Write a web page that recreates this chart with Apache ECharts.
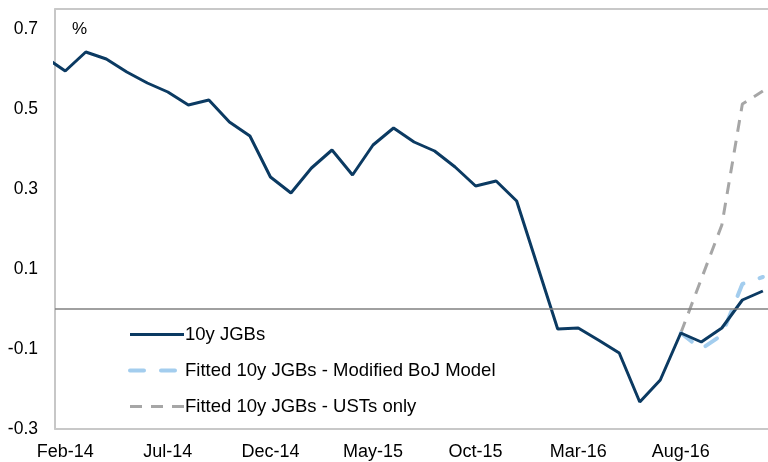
<!DOCTYPE html>
<html>
<head>
<meta charset="utf-8">
<script src="https://cdn.jsdelivr.net/npm/echarts@6/dist/echarts.min.js"></script>
<style>
  html, body { margin: 0; padding: 0; background: #fff; }
  #chart { width: 768px; height: 462px; }
</style>
</head>
<body>
<div id="chart"></div>
<script>
// monthly, Jan-14 .. Dec-16 (Jan-14 sits just left of the axis and gets clipped)
var months = [
  "Jan-14", "Feb-14", "Mar-14", "Apr-14", "May-14", "Jun-14", "Jul-14", "Aug-14", "Sep-14", "Oct-14", "Nov-14", "Dec-14",
  "Jan-15", "Feb-15", "Mar-15", "Apr-15", "May-15", "Jun-15", "Jul-15", "Aug-15", "Sep-15", "Oct-15", "Nov-15", "Dec-15",
  "Jan-16", "Feb-16", "Mar-16", "Apr-16", "May-16", "Jun-16", "Jul-16", "Aug-16", "Sep-16", "Oct-16", "Nov-16", "Dec-16"
];
var tickLabels = ["Feb-14", "Jul-14", "Dec-14", "May-15", "Oct-15", "Mar-16", "Aug-16"];

var jgb10y = [
  0.63, 0.595, 0.6425, 0.625, 0.5925, 0.565, 0.5425, 0.51, 0.5225, 0.4675, 0.4325, 0.33,
  0.29, 0.3525, 0.3975, 0.335, 0.41, 0.4525, 0.4175, 0.395, 0.355, 0.3075, 0.32, 0.27,
  0.11, -0.05, -0.0475, -0.078, -0.11, -0.2325, -0.1775, -0.06, -0.0825, -0.0475, 0.0225, 0.045
];
// fitted series start at Aug-16
var fittedBoj = [-0.06, -0.10, -0.065, 0.0625, 0.08];
var fittedUst = [-0.06, 0.075, 0.21, 0.5125, 0.545];

var font = "'Liberation Sans', Arial, sans-serif";
var navy = "#0b3a62", lightBlue = "#a3cdee", grey = "#a6a6a6";

// x position = month index, Feb-14 = 0
function toPoints(vals, startMonth) {
  var start = months.indexOf(startMonth);
  return vals.map(function (v, i) {
    return [start + i - 1, v];
  });
}

var chart = echarts.init(document.getElementById("chart"));
chart.setOption({
  animation: false,
  textStyle: { fontFamily: font },
  grid: { left: 55, right: 0, top: 9, bottom: 33 },
  legend: {
    orient: "vertical",
    left: 128,
    top: 325,
    padding: 0,
    itemWidth: 54,
    itemHeight: 14,
    itemGap: 17,
    itemStyle: { opacity: 0 },
    data: [
      { name: "10y JGBs", lineStyle: { width: 3 } },
      { name: "Fitted 10y JGBs - Modified BoJ Model", lineStyle: { width: 4, type: [14, 17], cap: "round" } },
      { name: "Fitted 10y JGBs - USTs only", lineStyle: { width: 3, type: [12, 9] } }
    ],
    textStyle: { fontFamily: font, fontSize: 18.5, color: "#000", lineHeight: 18, padding: [0, 0, 0, -4] }
  },
  graphic: [
    {
      type: "text",
      left: 72,
      top: 21,
      style: { text: "%", fontFamily: font, fontSize: 17, fill: "#000" }
    }
  ],
  xAxis: [
    {
      type: "value",
      min: -0.5,
      max: 34.25,
      axisLine: { show: true, onZero: false, lineStyle: { color: "#c8c8c8", width: 2 } },
      axisTick: { show: false },
      splitLine: { show: false },
      axisLabel: {
        customValues: tickLabels.map(function (t) { return months.indexOf(t) - 1; }),
        formatter: function (v) { return months[v + 1]; },
        fontFamily: font,
        fontSize: 18,
        color: "#000",
        margin: 14
      }
    },
    {
      type: "value",
      position: "top",
      min: -0.5,
      max: 34.25,
      axisLine: { show: true, onZero: false, lineStyle: { color: "#c8c8c8", width: 2 } },
      axisTick: { show: false },
      splitLine: { show: false },
      axisLabel: { show: false }
    }
  ],
  yAxis: {
    type: "value",
    min: -0.3,
    max: 0.75,
    interval: 0.2,
    axisLine: { show: true, onZero: false, lineStyle: { color: "#b4b4b4", width: 1.5 } },
    axisTick: { show: false },
    splitLine: { show: false },
    axisLabel: {
      showMaxLabel: false,
      formatter: function (v) { return v.toFixed(1); },
      fontFamily: font,
      fontSize: 17.5,
      color: "#000",
      margin: 17
    }
  },
  series: [
    {
      name: "10y JGBs",
      type: "line",
      z: 4,
      symbol: "none",
      clip: true,
      data: toPoints(jgb10y, "Jan-14"),
      lineStyle: { color: navy, width: 3 },
      itemStyle: { color: navy },
      markLine: {
        silent: true,
        symbol: "none",
        label: { show: false },
        lineStyle: { color: "#808080", width: 1.5, type: "solid" },
        data: [{ yAxis: 0 }]
      }
    },
    {
      name: "Fitted 10y JGBs - Modified BoJ Model",
      type: "line",
      z: 3,
      symbol: "none",
      data: toPoints(fittedBoj, "Aug-16"),
      lineStyle: { color: lightBlue, width: 4, type: [14, 17], cap: "round" },
      itemStyle: { color: lightBlue }
    },
    {
      name: "Fitted 10y JGBs - USTs only",
      type: "line",
      z: 2,
      symbol: "none",
      data: toPoints(fittedUst, "Aug-16"),
      lineStyle: { color: grey, width: 3, type: [12, 9] },
      itemStyle: { color: grey }
    }
  ]
});
</script>
</body>
</html>
